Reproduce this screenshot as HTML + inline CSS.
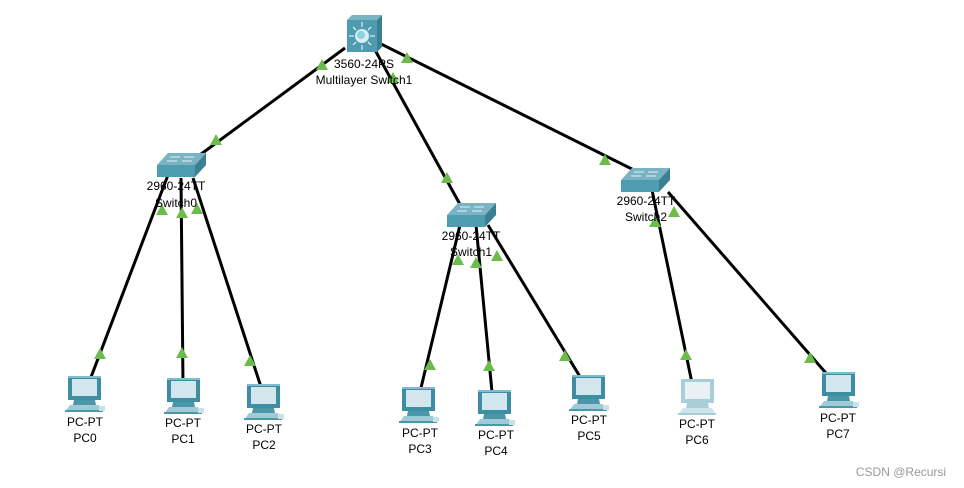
<!DOCTYPE html>
<html><head><meta charset="utf-8"><style>
html,body{margin:0;padding:0;background:#fff;}
svg{display:block;}
text{font-family:"Liberation Sans",Arial,sans-serif;font-size:12px;fill:#000;text-anchor:middle;}
</style></head><body>
<svg width="964" height="488" viewBox="0 0 964 488" xmlns="http://www.w3.org/2000/svg">
<defs>
<g id="pc">
<rect x="0" y="0" width="33" height="24" fill="#3e8ea3"/>
<rect x="0" y="0" width="33" height="2" fill="#7fbccc"/>
<rect x="4" y="3" width="25" height="17" fill="#d3e6ee"/>
<polygon points="6,24 27,24 28,29 5,29" fill="#4a97aa"/>
<polygon points="2,29 31,29 35,36 -3,36" fill="#9fcad6"/>
<rect x="-3" y="34" width="38" height="2" fill="#4a97aa"/>
<rect x="31" y="30" width="6" height="5" fill="#c8e0e8"/>
</g>
<g id="pcl">
<rect x="0" y="0" width="33" height="24" fill="#a7ced9"/>
<rect x="4" y="3" width="25" height="17" fill="#e8f2f6"/>
<polygon points="6,24 27,24 28,29 5,29" fill="#a7ced9"/>
<polygon points="2,29 31,29 35,36 -3,36" fill="#cfe4ea"/>
<rect x="-3" y="34" width="38" height="2" fill="#a7ced9"/>
</g>
<g id="sw">
<polygon points="1,12 12,0 50,0 39,12" fill="#7ab3c4"/>
<rect x="1" y="12" width="38" height="12" fill="#4f9bb0"/>
<polygon points="39,12 50,0 50,12 39,24" fill="#3a8093"/>
<path d="M14,4 h10 M28,4 h10 M11,8 h10 M26,8 h10" stroke="#e6f2f5" stroke-width="1"/>
</g>
<polygon id="tr" points="0,-6 6,5 -6,5" fill="#6dbb4a"/>
</defs>
<g stroke="#000" stroke-width="3" fill="none">
<line x1="345" y1="48" x2="193" y2="160"/>
<line x1="375" y1="50" x2="462" y2="208"/>
<line x1="381" y1="44" x2="650" y2="178"/>
<line x1="168" y1="175" x2="88" y2="385"/>
<line x1="181" y1="178" x2="183" y2="385"/>
<line x1="193" y1="178" x2="262" y2="390"/>
<line x1="460" y1="225" x2="420" y2="392"/>
<line x1="476" y1="225" x2="492" y2="392"/>
<line x1="488" y1="225" x2="582" y2="380"/>
<line x1="652" y1="190" x2="692" y2="383"/>
<line x1="668" y1="192" x2="832" y2="380"/>
</g>
<!-- MLS -->
<polygon points="347,20 352,15 382,15 377,20" fill="#7ab3c4"/>
<rect x="347" y="20" width="30" height="32" fill="#4f9bb0"/>
<polygon points="377,20 382,15 382,47 377,52" fill="#3a8093"/>
<circle cx="362" cy="36" r="7" fill="#d7eef4"/>
<circle cx="361" cy="35" r="4" fill="#8fd0e0"/>
<g stroke="#fff" stroke-width="1"><path d="M362,22v5 M362,45v5 M349,36h5 M370,36h5 M353,27l3,3 M371,27l-3,3 M353,45l3,-3 M371,45l-3,-3"/></g>
<use href="#sw" x="156" y="153"/>
<use href="#sw" x="446" y="203"/>
<use href="#sw" x="620" y="168"/>
<use href="#pc" x="68" y="376"/>
<use href="#pc" x="167" y="378"/>
<use href="#pc" x="247" y="384"/>
<use href="#pc" x="402" y="387"/>
<use href="#pc" x="478" y="390"/>
<use href="#pc" x="572" y="375"/>
<use href="#pcl" x="681" y="379"/>
<use href="#pc" x="822" y="372"/>
<use href="#tr" x="322" y="65"/><use href="#tr" x="216" y="140"/>
<use href="#tr" x="393" y="78"/><use href="#tr" x="447" y="178"/>
<use href="#tr" x="407" y="58"/><use href="#tr" x="605" y="160"/>
<use href="#tr" x="162" y="210"/><use href="#tr" x="100" y="354"/>
<use href="#tr" x="182" y="213"/><use href="#tr" x="182" y="353"/>
<use href="#tr" x="197" y="209"/><use href="#tr" x="250" y="361"/>
<use href="#tr" x="458" y="260"/><use href="#tr" x="430" y="365"/>
<use href="#tr" x="476" y="263"/><use href="#tr" x="489" y="366"/>
<use href="#tr" x="497" y="256"/><use href="#tr" x="565" y="356"/>
<use href="#tr" x="655" y="222"/><use href="#tr" x="686" y="355"/>
<use href="#tr" x="674" y="212"/><use href="#tr" x="810" y="358"/>
<text x="364" y="68">3560-24PS</text><text x="364" y="84">Multilayer Switch1</text>
<text x="176" y="190">2960-24TT</text><text x="176" y="207">Switch0</text>
<text x="471" y="240">2960-24TT</text><text x="471" y="256">Switch1</text>
<text x="646" y="205">2960-24TT</text><text x="646" y="221">Switch2</text>
<text x="85" y="426">PC-PT</text><text x="85" y="442">PC0</text>
<text x="183" y="427">PC-PT</text><text x="183" y="443">PC1</text>
<text x="264" y="433">PC-PT</text><text x="264" y="449">PC2</text>
<text x="420" y="437">PC-PT</text><text x="420" y="453">PC3</text>
<text x="496" y="439">PC-PT</text><text x="496" y="455">PC4</text>
<text x="589" y="424">PC-PT</text><text x="589" y="440">PC5</text>
<text x="697" y="428">PC-PT</text><text x="697" y="444">PC6</text>
<text x="838" y="422">PC-PT</text><text x="838" y="438">PC7</text>
<text x="901" y="476" style="fill:#999;font-size:12px">CSDN @Recursi</text>
</svg>
</body></html>
